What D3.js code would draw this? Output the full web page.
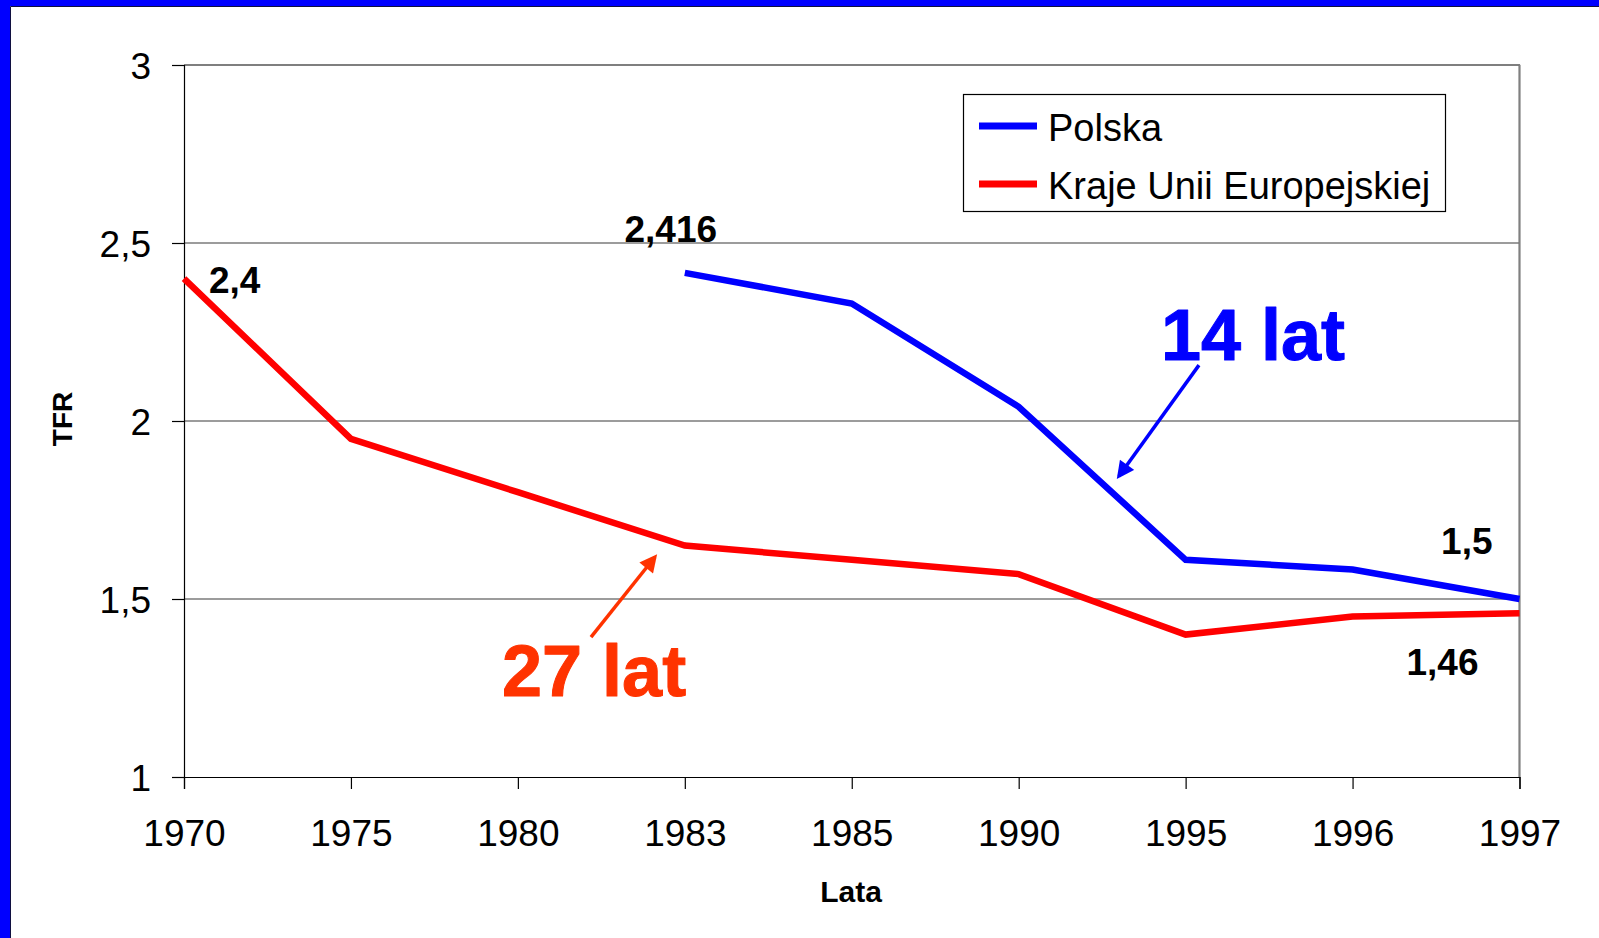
<!DOCTYPE html>
<html lang="pl">
<head>
<meta charset="utf-8">
<title>TFR – Polska i Kraje Unii Europejskiej</title>
<script src="https://cdn.jsdelivr.net/npm/d3@7"></script>
<style>
  html, body { margin: 0; padding: 0; background: #ffffff; }
  svg { display: block; }
  text { font-family: "Liberation Sans", Arial, sans-serif; }
</style>
</head>
<body>
<svg id="chart" width="1599" height="938"></svg>
<script>
// Lata (kategorie osi X)
const years = ["1970", "1975", "1980", "1983", "1985", "1990", "1995", "1996", "1997"];
// Współczynnik dzietności ogólnej (TFR)
const polska = [null, null, null, 2.416, 2.33, 2.04, 1.61, 1.583, 1.5];
const kraje_ue = [2.4, 1.95, 1.80, 1.65, 1.61, 1.57, 1.40, 1.451, 1.46];
// Podziałka osi Y
const yTicks = [1, 1.5, 2, 2.5, 3];
const seriesNames = ["Polska", "Kraje Unii Europejskiej"];

const W = 1599, H = 938;
const plot = { left: 184, right: 1519.5, top: 65, bottom: 777 };

const plLocale = d3.formatLocale({ decimal: ",", thousands: " ", grouping: [3], currency: ["", " zł"] });
const fmt = plLocale.format("~g");

const svg = d3.select("#chart");

// Tło i niebieska ramka slajdu (góra i lewa strona)
svg.append("rect").attr("width", W).attr("height", H).attr("fill", "#fff");
svg.append("rect").attr("x", 0).attr("y", 0).attr("width", W).attr("height", 6).attr("fill", "#0000ff");
svg.append("rect").attr("x", 0).attr("y", 0).attr("width", 10).attr("height", H).attr("fill", "#0000ff");
svg.append("path").attr("d", `M${W},6.5 H10.5 V${H}`).attr("fill", "none").attr("stroke", "#101040").attr("stroke-width", 1);

const x = d3.scalePoint().domain(years).range([plot.left, plot.right]).padding(0);
const y = d3.scaleLinear().domain([1, 3]).range([plot.bottom, plot.top]);
// pozycja pośrednia między kategoriami (indeks ułamkowy)
const xAt = i => x(years[0]) + i * x.step();

// Linie siatki
svg.append("g").selectAll("line").data(yTicks.filter(v => v > 1 && v < 3)).join("line")
  .attr("x1", plot.left).attr("x2", plot.right)
  .attr("y1", d => y(d)).attr("y2", d => y(d))
  .attr("stroke", "#3a3a3a").attr("stroke-width", 1.2);

// Ramka obszaru wykresu
svg.append("path")
  .attr("d", `M${plot.left},${plot.top} H${plot.right} V${plot.bottom}`)
  .attr("fill", "none").attr("stroke", "#000").attr("stroke-width", 1.2);
svg.append("line").attr("x1", plot.right).attr("x2", plot.right).attr("y1", plot.top).attr("y2", plot.bottom)
  .attr("stroke", "#808080").attr("stroke-width", 2);

// Oś Y
const yAxis = svg.append("g").attr("transform", `translate(${plot.left},0)`)
  .call(d3.axisLeft(y).tickValues(yTicks).tickFormat(fmt).tickSize(12).tickPadding(21));
yAxis.select(".domain").attr("stroke", "#000").attr("stroke-width", 1.2);
yAxis.selectAll(".tick line").attr("stroke", "#000").attr("stroke-width", 1.2);
yAxis.selectAll("text").attr("font-family", "Liberation Sans, Arial, sans-serif")
  .attr("font-size", 37).attr("fill", "#000").attr("dy", "0.36em");

// Oś X
const xAxis = svg.append("g").attr("transform", `translate(0,${plot.bottom})`)
  .call(d3.axisBottom(x).tickSize(12).tickPadding(31));
xAxis.select(".domain").attr("stroke", "#000").attr("stroke-width", 1.2);
xAxis.selectAll(".tick line").attr("stroke", "#000").attr("stroke-width", 1.2);
xAxis.selectAll("text").attr("font-family", "Liberation Sans, Arial, sans-serif")
  .attr("font-size", 37).attr("fill", "#000").attr("dy", "0.71em");

// Tytuły osi
svg.append("text").attr("x", 851).attr("y", 902).attr("text-anchor", "middle")
  .attr("font-size", 30).attr("font-weight", "bold").attr("fill", "#000").text("Lata");
svg.append("text").attr("transform", "translate(72,419) rotate(-90)").attr("text-anchor", "middle")
  .attr("font-size", 28).attr("font-weight", "bold").attr("fill", "#000").text("TFR");

// Serie
const line = d3.line().defined(d => d.v != null).x(d => x(d.year)).y(d => y(d.v));
const series = [
  { name: seriesNames[0], color: "#0000ff", values: years.map((yr, i) => ({ year: yr, v: polska[i] })) },
  { name: seriesNames[1], color: "#ff0000", values: years.map((yr, i) => ({ year: yr, v: kraje_ue[i] })) }
];
svg.append("g").selectAll("path").data(series.slice().reverse()).join("path")
  .attr("d", d => line(d.values))
  .attr("fill", "none").attr("stroke", d => d.color).attr("stroke-width", 6.5)
  .attr("stroke-linejoin", "miter");

// Etykiety wartości
const labels = [
  { year: "1970", v: kraje_ue[0], dx: 25, dy: 14.5, anchor: "start" },
  { year: "1983", v: polska[3], dx: -14, dy: -31, anchor: "middle" },
  { year: "1997", v: polska[8], dx: -27, dy: -45, anchor: "end" },
  { year: "1997", v: kraje_ue[8], dx: -41, dy: 62, anchor: "end" }
];
svg.append("g").selectAll("text").data(labels).join("text")
  .attr("x", d => x(d.year) + d.dx).attr("y", d => y(d.v) + d.dy)
  .attr("text-anchor", d => d.anchor)
  .attr("font-size", 37).attr("font-weight", "bold").attr("fill", "#000")
  .text(d => fmt(d.v));

// Legenda
const legend = svg.append("g");
legend.append("rect").attr("x", 963.5).attr("y", 94.5).attr("width", 482).attr("height", 117)
  .attr("fill", "#fff").attr("stroke", "#000").attr("stroke-width", 1.2);
series.forEach((s, i) => {
  const ly = 126 + i * 58;
  legend.append("line").attr("x1", 979).attr("x2", 1037).attr("y1", ly).attr("y2", ly)
    .attr("stroke", s.color).attr("stroke-width", 7);
  legend.append("text").attr("x", 1048).attr("y", ly + 15).attr("font-size", 38)
    .attr("fill", "#000").text(s.name);
});

// Adnotacje ze strzałkami
const defs = svg.append("defs");
function arrowHead(id, color) {
  defs.append("marker").attr("id", id).attr("viewBox", "0 0 10 10")
    .attr("refX", 8).attr("refY", 5).attr("markerWidth", 5.5).attr("markerHeight", 5)
    .attr("markerUnits", "strokeWidth").attr("orient", "auto")
    .append("path").attr("d", "M0,0 L10,5 L0,10 Z").attr("fill", color);
}
arrowHead("arrow-blue", "#0000ff");
arrowHead("arrow-red", "#ff3300");

const notes = [
  { text: "14 lat", color: "#0000ff", marker: "arrow-blue", tx: 5.852, tv: 2.171,
    from: [6.08, 2.157], to: [5.6, 1.845] },
  { text: "27 lat", color: "#ff3300", marker: "arrow-red", tx: 1.905, tv: 1.2275,
    from: [2.438, 1.393], to: [2.821, 1.618] }
];
notes.forEach(n => {
  svg.append("line")
    .attr("x1", xAt(n.from[0])).attr("y1", y(n.from[1]))
    .attr("x2", xAt(n.to[0])).attr("y2", y(n.to[1]))
    .attr("stroke", n.color).attr("stroke-width", 3.5)
    .attr("marker-end", `url(#${n.marker})`);
  svg.append("text").attr("x", xAt(n.tx)).attr("y", y(n.tv))
    .attr("font-family", "'Comic Sans MS', 'Liberation Sans', Arial, sans-serif")
    .attr("font-size", 72).attr("font-weight", "bold")
    .style("fill", n.color).style("stroke", n.color).attr("stroke-width", 1)
    .attr("stroke-linejoin", "round")
    .text(n.text);
});
</script>
</body>
</html>
